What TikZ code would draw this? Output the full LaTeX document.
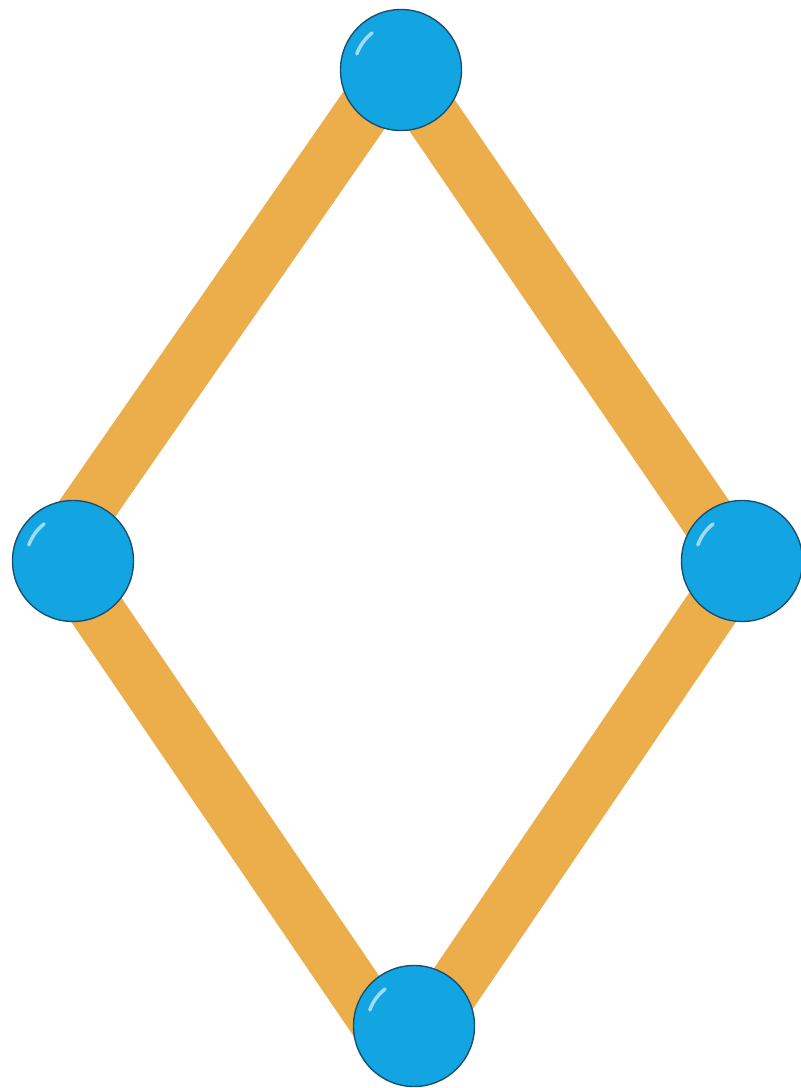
\documentclass[tikz,border=0pt]{standalone}
\usetikzlibrary{backgrounds}
\begin{document}
\begin{tikzpicture}[x=1pt,y=-1pt,
  stick/.style={line width=55pt, draw=stickorange},
  ball/.style={circle, minimum size=121pt, inner sep=0pt, fill=ballblue, draw=balledge, line width=1.4pt},
  shine/.style={line width=3.5pt, draw=white, opacity=0.6, line cap=round}]
\definecolor{stickorange}{RGB}{235,174,75}
\definecolor{ballblue}{RGB}{18,165,226}
\definecolor{balledge}{RGB}{25,80,110}
\useasboundingbox (0,0) rectangle (801,1088);
\node[ball] (bt) at (401,70) {};
\node[ball] (bl) at (73,561) {};
\node[ball] (br) at (742,561) {};
\node[ball] (bb) at (414,1026) {};
\foreach \n in {bt,bl,br,bb}{
  \draw[shine] ([shift={(-160:47)}]\n.center) arc[start angle=-160, end angle=-128, radius=47];
}
\begin{scope}[on background layer]
\fill[white] (0,0) rectangle (801,1088);
\draw[stick] (bt.center) -- ([xshift=-5pt]br.center);
\draw[stick] ([xshift=-9pt]bt.center) -- ([xshift=-22pt]bl.center);
\draw[stick] ([xshift=-10pt]bl.center) -- ([xshift=-34pt]bb.center);
\draw[stick] ([xshift=2pt]br.center) -- ([xshift=14pt]bb.center);
\end{scope}
\end{tikzpicture}
\end{document}
